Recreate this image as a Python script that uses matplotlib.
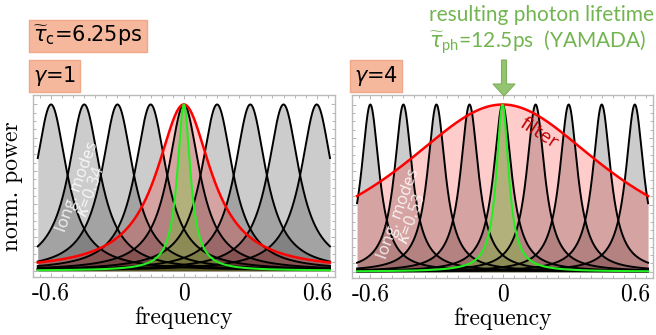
import numpy as np
import matplotlib.pyplot as plt
from matplotlib.patches import FancyArrow
from matplotlib.transforms import IdentityTransform

# longitudinal mode positions (same for both panels)
mode_centers = [-0.6, -0.45, -0.3, -0.15, 0.0, 0.15, 0.3, 0.45, 0.6]
# lorentzian half widths
mode_width = {'left': 0.087, 'right': 0.050}
filter_width = {'left': 0.15, 'right': 0.60}
photon_width = {'left': 0.036, 'right': 0.034}
kappa = {'left': '0.34', 'right': '0.53'}
gamma = {'left': '1', 'right': '4'}
x_ticks = [-0.6, 0, 0.6]
x_tick_labels = ['-0.6', '0', '0.6']

plt.rcParams['axes.unicode_minus'] = False

x = np.linspace(-0.66, 0.66, 1200)


def lorentz(x, x0, g):
    return 1.0 / (1.0 + ((x - x0) / g) ** 2)


def panel(ax, side):
    for c in mode_centers:
        y = lorentz(x, c, mode_width[side])
        ax.fill_between(x, 0, y, color='black', alpha=0.2, linewidth=0)
    yf = lorentz(x, 0, filter_width[side])
    ax.fill_between(x, 0, yf, color='red', alpha=0.2, linewidth=0)
    yp = lorentz(x, 0, photon_width[side])
    ax.fill_between(x, 0, yp, color=(0.45, 0.8, 0.2), alpha=0.35, linewidth=0)
    for c in mode_centers:
        ax.plot(x, lorentz(x, c, mode_width[side]), color='black', lw=1.4)
    ax.plot(x, yf, color='red', lw=1.8)
    ax.plot(x, yp, color='#22ee22', lw=1.5)

    ax.set_xlim(-0.683, 0.683)
    ax.set_ylim(-0.038, 1.056)
    ax.set_xticks(x_ticks)
    ax.set_xticklabels(x_tick_labels, fontfamily='cmr10', fontsize=17)
    ax.set_xticks(np.arange(-0.65, 0.66, 0.05), minor=True)
    ax.set_yticks(np.arange(0, 1.01, 0.2))
    ax.set_yticks(np.arange(0, 1.01, 0.05), minor=True)
    ax.set_yticklabels([])
    ax.tick_params(which='both', direction='in', top=True, right=True,
                   color='#aaaaaa', width=0.6, pad=4)
    ax.tick_params(which='major', length=3)
    ax.tick_params(which='minor', length=2)
    for s in ax.spines.values():
        s.set_color('#bbbbbb')
        s.set_linewidth(1.0)
    ax.set_xlabel('frequency', fontfamily='cmr10', fontsize=17, labelpad=1)


fig = plt.figure(figsize=(6.56, 3.35), dpi=100)
ax1 = fig.add_axes([0.0498, 0.173, 0.461, 0.543])
ax2 = fig.add_axes([0.5366, 0.170, 0.459, 0.546])

panel(ax1, 'left')
panel(ax2, 'right')
ax1.set_ylabel('norm. power', fontfamily='cmr10', fontsize=17, labelpad=3)

ax1.text(-0.45, 0.49, 'long. modes\n' + r'$\kappa$=' + kappa['left'], rotation=70,
         ha='center', va='center', color='white', alpha=0.85, fontsize=12,
         fontfamily='Open Sans', linespacing=0.9, rotation_mode='anchor')
ax2.text(-0.44, 0.33, 'long. modes\n' + r'$\kappa$=' + kappa['right'], rotation=70,
         ha='center', va='center', color='white', alpha=0.85, fontsize=12,
         fontfamily='Open Sans', linespacing=0.9, rotation_mode='anchor')
ax2.text(0.165, 0.83, 'filter', rotation=-33, ha='center', va='center',
         color='#c00000', fontsize=14, fontfamily='Open Sans', rotation_mode='anchor')

box = dict(boxstyle='square,pad=0.2', facecolor='#f5b89c', edgecolor='#f0a888', lw=1)
fig.text(33 / 656, 1 - 36 / 335, r'$\widetilde{\tau}_{\mathregular{c}}$=6.25ps', fontsize=15,
         va='center', ha='left', bbox=box)
fig.text(33 / 656, 1 - 76 / 335, r'$\gamma$=' + gamma['left'], fontsize=15,
         va='center', ha='left', bbox=box)
fig.text(354 / 656, 1 - 76 / 335, r'$\gamma$=' + gamma['right'], fontsize=15,
         va='center', ha='left', bbox=box)

green = '#72b550'
fig.text(429 / 656, 1 - 15 / 335, 'resulting photon lifetime', fontsize=15.0,
         color=green, fontfamily='Lato', va='center', ha='left')
fig.text(429 / 656, 1 - 42 / 335,
         r'$\widetilde{\tau}_{\mathregular{ph}}$=12.5ps  (YAMADA)', fontsize=15.0,
         color=green, fontfamily='Lato', va='center', ha='left')

arrow = FancyArrow(504, 335 - 60, 0, -36, width=5, head_width=22, head_length=12,
                   length_includes_head=True, transform=IdentityTransform(),
                   facecolor='#93c46f', edgecolor='#7fb05c', lw=0.8)
fig.patches.append(arrow)

plt.savefig('out.png', dpi=100)
